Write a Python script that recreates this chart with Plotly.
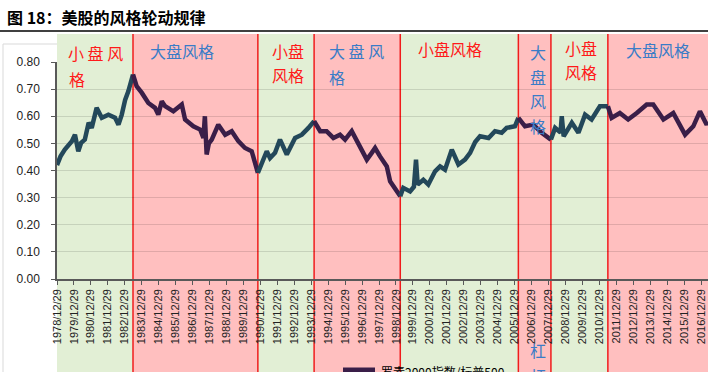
import plotly.graph_objects as go
import pandas as pd
import numpy as np

# ---------------- data ----------------
dates = [
    "1978-12-29", "1979-03-15", "1979-06-15", "1979-09-01", "1979-11-15",
    "1980-01-20", "1980-04-01", "1980-06-01", "1980-08-20", "1980-11-10",
    "1981-01-15", "1981-05-01", "1981-08-20", "1981-11-01", "1982-01-10",
    "1982-06-01", "1982-08-15", "1982-10-25", "1983-01-05", "1983-03-15",
    "1983-06-24", "1983-09-10", "1984-01-01", "1984-05-20", "1984-10-10",
    "1984-12-20", "1985-03-05", "1985-05-15", "1985-11-10", "1986-05-10",
    "1986-07-20", "1987-01-15", "1987-06-10", "1987-08-20", "1987-09-20",
    "1987-10-28", "1987-12-15", "1988-02-15", "1988-07-05", "1988-12-01",
    "1989-04-20", "1989-09-10", "1990-02-01", "1990-06-25", "1990-11-05",
    "1991-01-30", "1991-05-15", "1991-07-25", "1991-11-10", "1992-02-25",
    "1992-07-20", "1993-01-15", "1993-06-10", "1993-10-30", "1994-03-01",
    "1994-07-10", "1994-11-25", "1995-04-20", "1995-09-10", "1995-12-28",
    "1996-05-20", "1996-10-10", "1997-04-10", "1997-07-25", "1997-10-05",
    "1998-01-20", "1998-06-15", "1998-08-25", "1998-12-10", "1999-04-01",
    "1999-06-05", "1999-10-30", "2000-01-20", "2000-03-05", "2000-04-10",
    "2000-08-10", "2000-11-25", "2001-04-20", "2001-08-05", "2001-11-20",
    "2002-04-15", "2002-09-05", "2003-01-25", "2003-05-15", "2003-09-01",
    "2003-12-15", "2004-06-15", "2004-11-01", "2005-03-25", "2005-07-10",
    "2006-01-05", "2006-03-20", "2006-08-10", "2007-02-05", "2007-08-05",
    "2008-02-20", "2008-05-20", "2008-09-15", "2008-10-10", "2008-11-20",
    "2009-05-15", "2009-10-05", "2010-02-25", "2010-07-15", "2011-01-10",
    "2011-07-01", "2011-09-20", "2012-03-15", "2012-09-10", "2013-03-15",
    "2013-10-15", "2014-03-05", "2014-10-10", "2015-05-10", "2016-01-20",
    "2016-07-15", "2016-12-05", "2017-04-30", "2017-05-28",
]
ratio = [
    0.420, 0.452, 0.477, 0.495, 0.508,
    0.532, 0.471, 0.502, 0.514, 0.576,
    0.557, 0.631, 0.594, 0.600, 0.606,
    0.595, 0.569, 0.606, 0.660, 0.692,
    0.754, 0.711, 0.686, 0.649, 0.631,
    0.606, 0.655, 0.637, 0.618, 0.643,
    0.588, 0.563, 0.551, 0.520, 0.600,
    0.459, 0.500, 0.514, 0.569, 0.532,
    0.545, 0.508, 0.483, 0.471, 0.391,
    0.428, 0.471, 0.446, 0.465, 0.514,
    0.459, 0.520, 0.532, 0.557, 0.582,
    0.545, 0.545, 0.520, 0.532, 0.514,
    0.545, 0.502, 0.440, 0.465, 0.483,
    0.452, 0.415, 0.360, 0.336, 0.305,
    0.336, 0.323, 0.340, 0.440, 0.348,
    0.366, 0.348, 0.397, 0.415, 0.403,
    0.477, 0.422, 0.440, 0.465, 0.505,
    0.526, 0.520, 0.545, 0.539, 0.557,
    0.563, 0.594, 0.563, 0.569, 0.539,
    0.514, 0.557, 0.540, 0.600, 0.526,
    0.576, 0.539, 0.606, 0.588, 0.637,
    0.637, 0.594, 0.612, 0.588, 0.612,
    0.643, 0.643, 0.588, 0.612, 0.532,
    0.563, 0.618, 0.569, 0.580,
]
regime_bounds = ["1978-12-29", "1983-06-24", "1990-11-05", "1994-03-01",
                 "1999-04-01", "2006-03-20", "2008-02-20", "2011-07-01", "2017-05-28"]
regime_style = ["small", "large", "small", "large", "small", "large", "small", "large"]
tick_years = list(range(1978, 2017))
tick_vals = [f"{y}-12-29" for y in tick_years]
tick_labels = [f"{y}/12/29" for y in tick_years]
y_ticks = [0.0, 0.1, 0.2, 0.3, 0.4, 0.5, 0.6, 0.7, 0.8]
y_tick_labels = ["0.00", "0.10", "0.20", "0.30", "0.40", "0.50", "0.60", "0.70", "0.80"]
series_name = "罗素2000指数/标普500"
title_text = "图 18：美股的风格轮动规律"

# ---------------- layout helpers ----------------
W, H = 708, 372
PL, PR, PT, PB = 57, 708, 62, 279


def fx(px):
    return (px - PL) / (PR - PL)


def fy(py):
    return (PB - py) / (PB - PT)


TEAL = "#23485a"
PURPLE = "#3a1e48"
GREEN_BG = "#e2efd5"
PINK_BG = "#ffbfbf"
RED_TXT = "#ff1a1a"
BLUE_TXT = "#3a7cc7"
CJK = "Noto Sans CJK SC"

d = pd.to_datetime(dates)
v = np.array(ratio)
b = pd.to_datetime(regime_bounds)

fig = go.Figure()
for i, st in enumerate(regime_style):
    m = (d >= b[i]) & (d <= b[i + 1])
    color = TEAL if st == "small" else PURPLE
    fig.add_trace(go.Scatter(
        x=d[m], y=v[m], mode="lines", name=series_name,
        line=dict(color=color, width=4.5),
        showlegend=False, hoverinfo="skip",
    ))

shapes = []
# chart area border
shapes.append(dict(type="line", xref="paper", yref="paper", x0=fx(3), x1=fx(3),
                   y0=fy(44), y1=fy(372), line=dict(color="#d9d9d9", width=1), layer="below"))
shapes.append(dict(type="line", xref="paper", yref="paper", x0=fx(3), x1=fx(708),
                   y0=fy(44), y1=fy(44), line=dict(color="#d9d9d9", width=1), layer="below"))
for i, st in enumerate(regime_style):
    shapes.append(dict(type="rect", xref="x", yref="paper",
                       x0=regime_bounds[i], x1=regime_bounds[i + 1],
                       y0=fy(372), y1=fy(34),
                       fillcolor=GREEN_BG if st == "small" else PINK_BG,
                       line=dict(width=0), layer="below"))
for bd in regime_bounds[1:-1]:
    shapes.append(dict(type="line", xref="x", yref="paper", x0=bd, x1=bd,
                       y0=fy(372), y1=fy(34), line=dict(color="#f01c1c", width=1.5),
                       layer="below"))
# title underline
shapes.append(dict(type="line", xref="paper", yref="paper", x0=fx(0), x1=fx(708),
                   y0=fy(31), y1=fy(31), line=dict(color="#000000", width=1.5), layer="above"))
# manual legend sample (legend sits at the clipped bottom edge)
shapes.append(dict(type="line", xref="paper", yref="paper", x0=fx(343), x1=fx(375),
                   y0=fy(370), y1=fy(370), line=dict(color=PURPLE, width=5), layer="above"))

annotations = [dict(xref="paper", yref="paper", x=fx(5), y=fy(17), xanchor="left",
                    yanchor="middle", text=f"<b>{title_text}</b>", showarrow=False,
                    font=dict(family=CJK, size=16, color="#000000"))]
annotations.append(dict(xref="paper", yref="paper", x=fx(379), y=fy(371), xanchor="left",
                        yanchor="middle", text=series_name, showarrow=False,
                        font=dict(family=CJK, size=12, color="#000000")))


def txt(s, px, py, color, anchor="left"):
    annotations.append(dict(xref="paper", yref="paper", x=fx(px), y=fy(py),
                            xanchor=anchor, yanchor="middle", text=s, showarrow=False,
                            font=dict(family=CJK, size=16, color=color)))


txt("小 盘 风", 66, 53, RED_TXT)
txt("格", 67, 79, RED_TXT)
txt("大盘风格", 148, 51, BLUE_TXT)
txt("小盘", 270, 51, RED_TXT)
txt("风格", 270, 75, RED_TXT)
txt("大 盘 风", 327, 51, BLUE_TXT)
txt("格", 327, 77, BLUE_TXT)
txt("小盘风格", 416, 49, RED_TXT)
for ch, py in zip(["大", "盘", "风", "格", "杠", "杆"], [52, 77, 101, 126, 350, 376]):
    txt(ch, 538, py, BLUE_TXT, anchor="center")
txt("小盘", 563, 48, RED_TXT)
txt("风格", 563, 72, RED_TXT)
txt("大盘风格", 624, 50, BLUE_TXT)

fig.update_layout(
    width=W, height=H,
    margin=dict(l=PL, r=W - PR, t=PT, b=H - PB, pad=0, autoexpand=False),
    paper_bgcolor="#ffffff", plot_bgcolor="rgba(0,0,0,0)",
    shapes=shapes, annotations=annotations,
    showlegend=False,
    font=dict(family="Liberation Sans", color="#222222"),
)
fig.update_xaxes(
    type="date", range=[regime_bounds[0], regime_bounds[-1]], automargin=False,
    tickmode="array", tickvals=tick_vals, ticktext=tick_labels, tickangle=-90,
    ticks="outside", ticklen=4, tickcolor="#595959", tickwidth=1,
    showline=True, linecolor="#595959", linewidth=1.5, showgrid=False, zeroline=False,
    tickfont=dict(family="Liberation Sans", size=11, color="#222222"),
)
fig.update_yaxes(
    range=[0, 0.8], tickmode="array", tickvals=y_ticks, ticktext=y_tick_labels,
    automargin=False,
    ticks="outside", ticklen=4, tickcolor="#595959", ticklabelstandoff=9,
    showline=True, linecolor="#595959", linewidth=1.5,
    showgrid=True, gridcolor="rgba(0,0,0,0.12)", gridwidth=1, zeroline=False,
    tickfont=dict(family="Liberation Sans", size=12, color="#222222"),
)

fig.write_html(
    "out.html",
    config={"displayModeBar": False},
    post_script="document.body.style.margin='0';document.body.style.padding='0';"
                "document.body.style.overflow='hidden';",
)
